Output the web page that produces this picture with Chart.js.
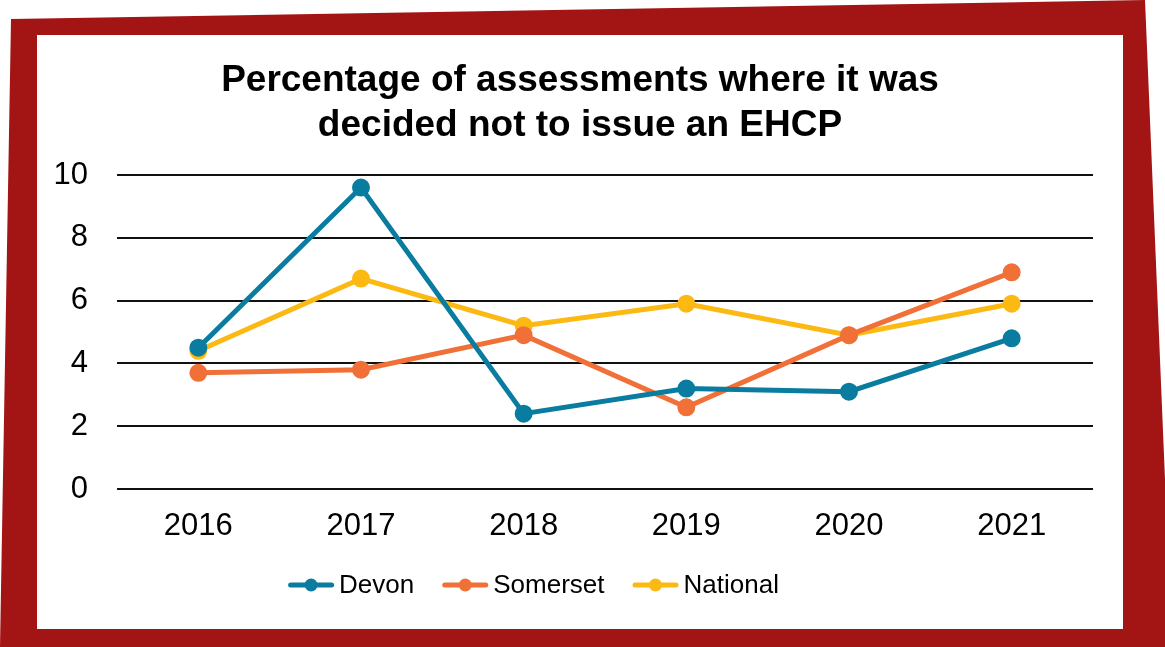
<!DOCTYPE html>
<html>
<head>
<meta charset="utf-8">
<script src="https://cdn.jsdelivr.net/npm/chart.js@4"></script>
<style>
  html, body { margin: 0; padding: 0; background: #ffffff; }
  #wrap { position: relative; width: 1165px; height: 647px; overflow: hidden; }
  #frame { position: absolute; left: 0; top: 0; width: 1165px; height: 647px; background: #A31515;
           clip-path: polygon(11px 19px, 1145px 0px, 1172px 647px, 0px 647px); }
  #inner { position: absolute; left: 37px; top: 35px; width: 1086px; height: 594px; background: #ffffff; }
  #c { position: absolute; left: 0; top: 0; }
</style>
</head>
<body>
<div id="wrap">
  <div id="frame"></div>
  <div id="inner"></div>
  <canvas id="c" width="1165" height="647"></canvas>
</div>
<script>
const titleLines = ['Percentage of assessments where it was', 'decided not to issue an EHCP'];
const years = ['2016', '2017', '2018', '2019', '2020', '2021'];
const devon = [4.5, 9.6, 2.4, 3.2, 3.1, 4.8];
const somerset = [3.7, 3.8, 4.9, 2.6, 4.9, 6.9];
const national = [4.4, 6.7, 5.2, 5.9, 4.9, 5.9];
const seriesNames = ['Devon', 'Somerset', 'National'];
const seriesColors = ['#0A7CA0', '#F07038', '#FDB913'];

const FONT = '"Liberation Sans", Arial, sans-serif';

function ds(label, data, color) {
  return {
    label, data,
    borderColor: color, backgroundColor: color,
    pointBackgroundColor: color, pointBorderColor: color,
    borderWidth: 5, pointRadius: 6.5, pointHoverRadius: 6.5,
    tension: 0
  };
}

const customLegend = {
  id: 'customLegend',
  afterDraw(chart) {
    const ctx = chart.ctx;
    const y = 585;
    const markerW = 46, gapText = 5, gapItem = 28;
    ctx.save();
    ctx.font = '26px ' + FONT;
    const items = chart.data.datasets.map(d => ({ text: d.label, color: d.borderColor, w: ctx.measureText(d.label).width }));
    let total = 0;
    items.forEach((it, i) => { total += markerW + gapText + it.w + (i < items.length - 1 ? gapItem : 0); });
    let x = 533.5 - total / 2;
    items.forEach(it => {
      ctx.strokeStyle = it.color;
      ctx.lineWidth = 5;
      ctx.lineCap = 'round';
      ctx.beginPath();
      ctx.moveTo(x + 2.5, y);
      ctx.lineTo(x + markerW - 2.5, y);
      ctx.stroke();
      ctx.fillStyle = it.color;
      ctx.beginPath();
      ctx.arc(x + markerW / 2, y, 6.5, 0, Math.PI * 2);
      ctx.fill();
      ctx.fillStyle = '#000';
      ctx.textBaseline = 'middle';
      ctx.textAlign = 'left';
      ctx.fillText(it.text, x + markerW + gapText, y + 1);
      x += markerW + gapText + it.w + gapItem;
    });
    ctx.restore();
  }
};

new Chart(document.getElementById('c'), {
  type: 'line',
  data: {
    labels: years,
    datasets: [
      ds(seriesNames[0], devon, seriesColors[0]),
      ds(seriesNames[1], somerset, seriesColors[1]),
      ds(seriesNames[2], national, seriesColors[2])
    ]
  },
  options: {
    responsive: false,
    animation: false,
    events: [],
    layout: { padding: { left: 37, right: 42, top: 0, bottom: 98 } },
    plugins: {
      legend: { display: false },
      tooltip: { enabled: false },
      title: {
        display: true,
        text: titleLines,
        color: '#000',
        font: { family: FONT, size: 37, weight: 'bold', lineHeight: 1.216 },
        padding: { top: 58, bottom: 27 }
      }
    },
    scales: {
      x: {
        offset: true,
        grid: { display: false, drawTicks: false },
        border: { display: false },
        ticks: { color: '#000', font: { family: FONT, size: 31 }, padding: 19, maxRotation: 0 },
        afterFit(s) { s.height = 60; }
      },
      y: {
        min: 0, max: 10,
        grid: { color: '#111', lineWidth: 2, drawTicks: false },
        border: { display: false },
        ticks: { stepSize: 2, color: '#000', font: { family: FONT, size: 31 }, padding: 29 },
        afterFit(s) { s.width = 80; }
      },
      yRight: {
        position: 'right',
        min: 0, max: 10,
        grid: { display: false, drawTicks: false },
        border: { display: false },
        ticks: { display: false },
        afterFit(s) { s.width = 30; }
      }
    }
  },
  plugins: [customLegend]
});
</script>
</body>
</html>
